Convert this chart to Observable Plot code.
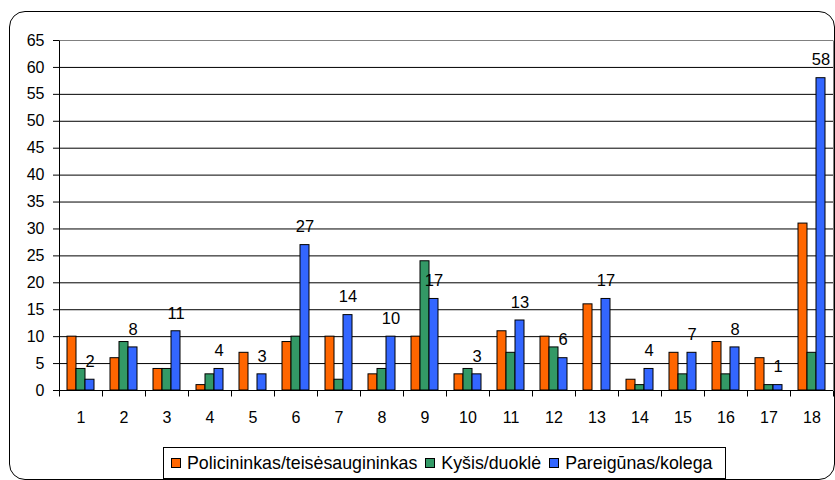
<!DOCTYPE html>
<html>
<head>
<meta charset="utf-8">
<script src="https://cdn.jsdelivr.net/npm/d3@7"></script>
<script src="https://cdn.jsdelivr.net/npm/@observablehq/plot@0.6"></script>
<style>
  html, body { margin: 0; padding: 0; background: #fff; }
  body { font-family: "Liberation Sans", Arial, sans-serif; }
  #wrap { position: relative; width: 835px; height: 480px; overflow: hidden; }
  #frame { position: absolute; left: 9px; top: 11px; width: 826px; height: 469px;
           border: 1.5px solid #000; border-radius: 16px; box-sizing: border-box; }
  #chart { position: absolute; left: 0; top: 0; }
  #legend { position: absolute; left: 163px; top: 447px; width: 563px; height: 32px;
            border: 1px solid #000; box-sizing: border-box; background: #fff;
            display: flex; align-items: center; padding-left: 7px;
            font-size: 17.8px; color: #000; white-space: nowrap; }
  .item { display: flex; align-items: center; margin-right: 8px; }
  .sw { width: 8px; height: 8px; border: 1px solid #000; margin-right: 6px; }
</style>
</head>
<body>
<div id="wrap">
  <div id="frame"></div>
  <div id="chart"></div>
  <div id="legend"></div>
</div>
<script>
const categories = ["1","2","3","4","5","6","7","8","9","10","11","12","13","14","15","16","17","18"];
const series = ["Policininkas/teisėsaugininkas", "Kyšis/duoklė", "Pareigūnas/kolega"];
const policininkas = [10, 6, 4, 1, 7, 9, 10, 3, 10, 3, 11, 10, 16, 2, 7, 9, 6, 31];
const kysis        = [4, 9, 4, 3, 0, 10, 2, 4, 24, 4, 7, 8, 0, 1, 3, 3, 1, 7];
const pareigunas   = [2, 8, 11, 4, 3, 27, 14, 10, 17, 3, 13, 6, 17, 4, 7, 8, 1, 58];
const colors = ["#FF6600", "#339966", "#3366FF"];
const yTicks = [0, 5, 10, 15, 20, 25, 30, 35, 40, 45, 50, 55, 60, 65];

const seriesValues = [policininkas, kysis, pareigunas];
const rows = categories.flatMap((c, i) =>
  series.map((s, j) => ({cat: c, series: s, value: seriesValues[j][i]})));

const plot = Plot.plot({
  width: 835,
  height: 420,
  marginLeft: 59,
  marginRight: 2,
  marginTop: 40,
  marginBottom: 30,
  style: {fontFamily: "'Liberation Sans', Arial, sans-serif", fontSize: "16px", color: "#000", background: "transparent", overflow: "visible"},
  fx: {domain: categories, padding: 0, label: null},
  x: {domain: series, paddingInner: 0, paddingOuter: 0.72, axis: null},
  y: {domain: [0, 65], axis: null},
  color: {domain: series, range: colors},
  marks: [
    Plot.ruleY(yTicks.filter(t => t < 65), {stroke: "#000", strokeWidth: 1}),
    Plot.ruleY([65], {stroke: "#808080", strokeWidth: 1}),
    Plot.barY(rows.filter(d => d.value > 0), {fx: "cat", x: "series", y: "value", fill: "series", stroke: "#000", strokeWidth: 1}),
    Plot.text(rows.filter(d => d.series === series[2]), {fx: "cat", x: "series", y: "value", text: "value", dy: -18, fontSize: 16.5, fill: "#000"}),
    Plot.axisY({ticks: yTicks, tickSize: 6, tickPadding: 9, fontSize: 16, stroke: "#000", fill: "#000", label: null}),
    Plot.axisFx({anchor: "bottom", tickSize: 0, tickPadding: 21, fontSize: 16, fill: "#000", label: null})
  ]
});

// axis line, category boundary ticks and right border, positioned with Plot's own scales
const fx = plot.scale("fx");
const ys = plot.scale("y");
const bw = fx.bandwidth;
const y0 = ys.apply(0), yTop = ys.apply(65);
const edges = categories.map(c => fx.apply(c)).concat([fx.apply(categories[categories.length - 1]) + bw]);
const g = d3.select(plot).append("g").attr("transform", "translate(0.5,0.5)");
g.selectAll("line.b").data(edges).join("line")
  .attr("x1", d => Math.round(d)).attr("x2", d => Math.round(d))
  .attr("y1", y0).attr("y2", y0 + 6).attr("stroke", "#000");
g.append("line").attr("x1", Math.round(edges[0])).attr("x2", Math.round(edges[0]))
  .attr("y1", yTop).attr("y2", y0).attr("stroke", "#000");
g.append("line").attr("x1", Math.round(edges[edges.length - 1])).attr("x2", Math.round(edges[edges.length - 1]))
  .attr("y1", yTop).attr("y2", y0).attr("stroke", "#808080");

document.getElementById("chart").appendChild(plot);

const legend = document.getElementById("legend");
series.forEach((s, i) => {
  const item = document.createElement("div");
  item.className = "item";
  const sw = document.createElement("div");
  sw.className = "sw";
  sw.style.background = colors[i];
  const t = document.createElement("span");
  t.textContent = s;
  item.appendChild(sw);
  item.appendChild(t);
  legend.appendChild(item);
});
</script>
</body>
</html>
